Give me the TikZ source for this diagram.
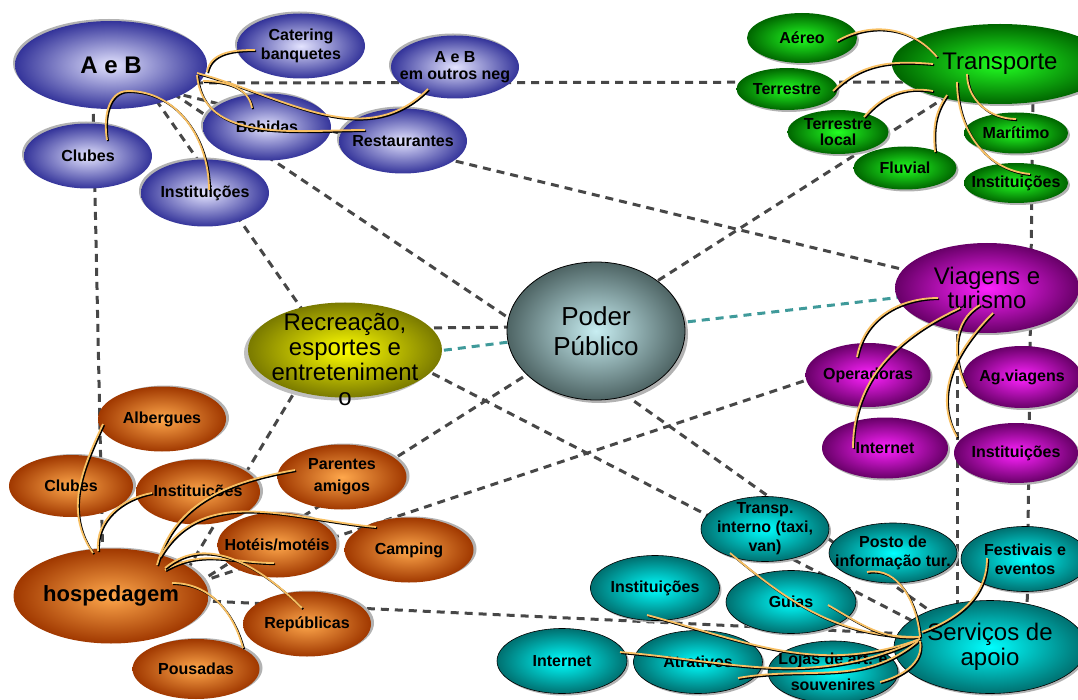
\documentclass[tikz,border=0pt]{standalone}
\usepackage{fontspec}
\setmainfont{Liberation Sans}
\usetikzlibrary{shapes.geometric, shadows, backgrounds}

\definecolor{blueIn}{HTML}{E4E4FF}
\definecolor{blueOut}{HTML}{34349A}
\definecolor{greenIn}{HTML}{22FF22}
\definecolor{greenOut}{HTML}{006600}
\definecolor{purpIn}{HTML}{FF22FF}
\definecolor{purpOut}{HTML}{680068}
\definecolor{orgIn}{HTML}{FFA84C}
\definecolor{orgOut}{HTML}{A03800}
\definecolor{cyanIn}{HTML}{00FFFF}
\definecolor{cyanOut}{HTML}{007070}
\definecolor{oliveIn}{HTML}{FFFF00}
\definecolor{oliveOut}{HTML}{7A7A00}
\definecolor{poderIn}{HTML}{C8EEF2}
\definecolor{poderOut}{HTML}{4E6464}
\definecolor{linkYellow}{HTML}{F8C063}
\definecolor{dashGray}{HTML}{474747}
\definecolor{dashTeal}{HTML}{3F9A9A}

\tikzset{
  blob/.style={ellipse, inner sep=-20pt, align=center, font=\fontsize{16}{19}\selectfont\bfseries},
  leaf/.style={minimum width=128pt, minimum height=65pt},
  blueb/.style={blob, inner color=blueIn, outer color=blueOut,
    drop shadow={shadow xshift=-2pt, shadow yshift=2pt, fill=gray!60, opacity=1}},
  greenb/.style={blob, inner color=greenIn, outer color=greenOut,
    drop shadow={shadow xshift=2pt, shadow yshift=-2pt, fill=gray!60, opacity=1}},
  purpb/.style={blob, inner color=purpIn, outer color=purpOut,
    drop shadow={shadow xshift=2pt, shadow yshift=-2pt, fill=gray!60, opacity=1}},
  orgb/.style={blob, inner color=orgIn, outer color=orgOut,
    drop shadow={shadow xshift=3pt, shadow yshift=1pt, fill=gray!60, opacity=1}},
  cyanb/.style={blob, draw=black, line width=0.6pt, inner color=cyanIn, outer color=cyanOut,
    drop shadow={shadow xshift=2pt, shadow yshift=-2pt, fill=gray!60, opacity=1}},
  dashline/.style={draw=dashGray, line width=3pt, dash pattern=on 8pt off 6pt},
  tealline/.style={dashline, draw=dashTeal},
  curvelink/.style={draw=linkYellow, line width=1.8pt,
    preaction={draw=black, line width=1.8pt, transform canvas={shift={(1.2pt,-1.2pt)}}}}
}

\begin{document}
\begin{tikzpicture}[x=1pt, y=1pt]
\useasboundingbox (0,0) rectangle (1078,-700);

% A e B
\node[blueb, minimum width=192pt, minimum height=88pt, font=\fontsize{24}{28}\selectfont\bfseries] (aeb) at (111,-65) {A e B};
\node[blueb, leaf] (cat) at (301,-46) {Catering\\banquetes};
\node[blueb, leaf, minimum height=63pt, font=\fontsize{16}{17}\selectfont\bfseries] (aeo) at (455,-67) {A e B\\em outros neg};
\node[blueb, leaf, minimum height=67pt] (beb) at (267,-127) {Bebidas};
\node[blueb, leaf] (rest) at (403,-141) {Restaurantes};
\node[blueb, leaf] (clubA) at (88,-156) {Clubes};
\node[blueb, leaf, minimum height=67pt] (instA) at (205,-193) {Instituições};

% Transporte
\node[greenb, minimum width=216pt, minimum height=80pt, font=\fontsize{24}{28}\selectfont] (trans) at (1000,-64) {Transporte};
\node[greenb, minimum width=110pt, minimum height=50pt] (aer) at (802,-38) {Aéreo};
\node[greenb, minimum width=101pt, minimum height=42pt] (terr) at (787,-89) {Terrestre};
\node[greenb, minimum width=101pt, minimum height=44pt, font=\fontsize{16}{16}\selectfont\bfseries] (terrl) at (838,-132) {Terrestre\\local};
\node[greenb, minimum width=103pt, minimum height=43pt] (fluv) at (905,-168) {Fluvial};
\node[greenb, minimum width=104pt, minimum height=41pt] (mar) at (1016,-133) {Marítimo};
\node[greenb, minimum width=104pt, minimum height=40pt] (instT) at (1016,-183) {Instituições};

% Viagens e turismo
\node[purpb, minimum width=184pt, minimum height=90pt, font=\fontsize{24}{24}\selectfont] (viag) at (987,-288) {Viagens e\\turismo};
\node[purpb, minimum width=125pt, minimum height=64pt] (oper) at (868,-375) {Operadoras};
\node[purpb, minimum width=118pt, minimum height=62pt] (agv) at (1022,-377) {Ag.viagens};
\node[purpb, minimum width=126pt, minimum height=61pt] (intV) at (885,-448) {Internet};
\node[purpb, minimum width=124pt, minimum height=60pt] (instV) at (1016,-453) {Instituições};

% centro
\node[blob, draw=black, line width=0.8pt, inner color=poderIn, outer color=poderOut,
  drop shadow={shadow xshift=3pt, shadow yshift=-3pt, fill=gray!60, opacity=1},
  minimum width=178pt, minimum height=138pt, font=\fontsize{26}{30}\selectfont] (poder) at (596,-331) {Poder\\Público};
\node[blob, inner color=oliveIn, outer color=oliveOut, inner ysep=-32pt, text height=112pt,
  drop shadow={shadow xshift=-4pt, shadow yshift=-3pt, fill=gray!50, opacity=1},
  minimum width=194pt, minimum height=95pt, font=\fontsize{24}{25}\selectfont] (rec) at (345,-350) {Recreação,\\esportes e\\entreteniment\\o};

% hospedagem
\node[orgb, minimum width=195pt, minimum height=95pt, font=\fontsize{22}{26}\selectfont\bfseries] (hosp) at (111,-596) {hospedagem};
\node[orgb, leaf] (alb) at (162,-419) {Albergues};
\node[orgb, minimum width=124pt, minimum height=62pt] (clubH) at (71,-486) {Clubes};
\node[orgb, minimum width=124pt, minimum height=65pt] (instH) at (198,-492) {Instituições};
\node[orgb, minimum width=129pt, minimum height=65pt, font=\fontsize{16}{22}\selectfont\bfseries] (par) at (342,-477) {Parentes\\amigos};
\node[orgb, minimum width=119pt, minimum height=65pt] (hot) at (277,-545) {Hotéis/motéis};
\node[orgb, minimum width=129pt, minimum height=65pt] (camp) at (409,-550) {Camping};
\node[orgb, leaf] (rep) at (307,-624) {Repúblicas};
\node[orgb, minimum width=127pt, minimum height=60pt] (pous) at (196,-669) {Pousadas};

% Servicos de apoio
\node[cyanb, minimum width=192pt, minimum height=93pt, font=\fontsize{24}{25}\selectfont] (serv) at (990,-647) {Serviços de\\apoio};
\node[cyanb, leaf] (tint) at (765,-529) {Transp.\\interno (taxi,\\van)};
\node[cyanb, minimum width=128pt, minimum height=60pt] (posto) at (893,-553) {Posto de\\informação tur.};
\node[cyanb, leaf] (fest) at (1025,-559) {Festivais e\\eventos};
\node[cyanb, minimum width=129pt, minimum height=65pt] (instC) at (655,-588) {Instituições};
\node[cyanb, minimum width=130pt, minimum height=63pt] (guia) at (791,-602) {Guias};
\node[cyanb, minimum width=130pt, minimum height=65pt] (intC) at (562,-661) {Internet};
\node[cyanb, minimum width=129pt, minimum height=63pt] (atr) at (698,-662) {Atrativos};
\node[cyanb, minimum width=130pt, minimum height=62pt, font=\fontsize{16}{26}\selectfont\bfseries] (loja) at (833,-672) {Lojas de art. e\\souvenires};

% ligacoes tracejadas
\begin{scope}[on background layer]
\draw[dashline] ([shift={(70,-18)}]aeb.center) -- ([shift={(-92,-18)}]trans.center);
\draw[dashline] ([shift={(39,-13)}]aeb.center) -- ([shift={(-56,-8)}]poder.center);
\draw[dashline] ([shift={(29,-12)}]aeb.center) -- ([shift={(-25,15)}]rec.center);
\draw[dashline] ([shift={(59,-27)}]aeb.center) -- ([shift={(-57,12)}]viag.center);
\draw[dashline] ([shift={(-18,-35)}]aeb.center) -- ([shift={(-8,26)}]hosp.center);
\draw[dashline] ([shift={(-40,-24)}]trans.center) -- ([shift={(44,39)}]poder.center);
\draw[dashline] ([shift={(33,-26)}]trans.center) -- ([shift={(37,27)}]serv.center);
\draw[dashline] ([shift={(-30,-32)}]viag.center) -- ([shift={(-33,22)}]serv.center);
\draw[tealline] ([shift={(64,6)}]poder.center) -- ([shift={(-67,-7)}]viag.center);
\draw[dashline] ([shift={(75,22)}]rec.center) -- ([shift={(-71,4)}]poder.center);
\draw[tealline] ([shift={(85,-2)}]rec.center) -- ([shift={(-71,-9)}]poder.center);
\draw[dashline] ([shift={(75,-17)}]rec.center) -- ([shift={(-60,17)}]serv.center);
\draw[dashline] ([shift={(4,-46)}]poder.center) -- ([shift={(-40,22)}]serv.center);
\draw[dashline] ([shift={(69,14)}]hosp.center) -- ([shift={(-45,-33)}]rec.center);
\draw[dashline] ([shift={(74,5)}]hosp.center) -- ([shift={(-46,-29)}]poder.center);
\draw[dashline] ([shift={(74,9)}]hosp.center) -- ([shift={(-28,6)}]oper.center);
\draw[dashline] ([shift={(74,-4)}]hosp.center) -- ([shift={(-60,12)}]serv.center);
\end{scope}

% A e B
\draw[curvelink] ([shift={(96,-7)}]aeb.center) to[out=80, in=180] ([shift={(-46,-4)}]cat.center);
\draw[curvelink] ([shift={(86,-8)}]aeb.center) to[out=-15, in=-135] ([shift={(-27,-22)}]aeo.center);
\draw[curvelink] ([shift={(92,-16)}]aeb.center) to[out=0, in=100] ([shift={(-15,19)}]beb.center);
\draw[curvelink] ([shift={(86,-10)}]aeb.center) to[out=-85, in=180] ([shift={(-38,11)}]rest.center);
\draw[curvelink] ([shift={(17,-26)}]aeb.center) to[out=180, in=100] ([shift={(19,16)}]clubA.center);
\draw[curvelink] ([shift={(17,-26)}]aeb.center) to[out=0, in=90] ([shift={(4,3)}]instA.center);

% Transporte
\draw[curvelink] ([shift={(-63,7)}]trans.center) to[out=130, in=30] ([shift={(35,-3)}]aer.center);
\draw[curvelink] ([shift={(-67,0)}]trans.center) to[out=175, in=45] ([shift={(46,-2)}]terr.center);
\draw[curvelink] ([shift={(-67,-27)}]trans.center) to[out=170, in=50] ([shift={(26,15)}]terrl.center);
\draw[curvelink] ([shift={(-53,-31)}]trans.center) to[out=-125, in=95] ([shift={(30,16)}]fluv.center);
\draw[curvelink] ([shift={(-33,-10)}]trans.center) to[out=-90, in=180] ([shift={(0,14)}]mar.center);
\draw[curvelink] ([shift={(-43,-18)}]trans.center) to[out=-90, in=175] ([shift={(14,9)}]instT.center);

% Viagens e turismo
\draw[curvelink] ([shift={(-49,-10)}]viag.center) to[out=180, in=80] ([shift={(-11,18)}]oper.center);
\draw[curvelink] ([shift={(-27,-20)}]viag.center) to[out=-155, in=90] ([shift={(-32,0)}]intV.center);
\draw[curvelink] ([shift={(-7,-17)}]viag.center) to[out=-150, in=115] ([shift={(-56,-10)}]agv.center);
\draw[curvelink] ([shift={(6,-25)}]viag.center) to[out=-135, in=120] ([shift={(-59,16)}]instV.center);

% hospedagem
\draw[curvelink] ([shift={(-18,43)}]hosp.center) to[out=125, in=-115] ([shift={(-59,-5)}]alb.center);
\draw[curvelink] ([shift={(-13,45)}]hosp.center) to[out=95, in=190] ([shift={(-46,-1)}]instH.center);
\draw[curvelink] ([shift={(46,31)}]hosp.center) to[out=75, in=190] ([shift={(-47,7)}]par.center);
\draw[curvelink] ([shift={(49,39)}]hosp.center) to[out=60, in=175] ([shift={(-33,23)}]camp.center);
\draw[curvelink] ([shift={(54,26)}]hosp.center) to[out=30, in=180] ([shift={(-3,-18)}]hot.center);
\draw[curvelink] ([shift={(54,28)}]hosp.center) to[out=40, in=135] ([shift={(-5,16)}]rep.center);
\draw[curvelink] ([shift={(61,13)}]hosp.center) to[out=0, in=105] ([shift={(47,21)}]pous.center);

% Servicos de apoio
\draw[curvelink] ([shift={(-70,10)}]serv.center) to[out=180, in=-40] ([shift={(-35,-24)}]tint.center);
\draw[curvelink] ([shift={(-70,10)}]serv.center) to[out=95, in=10] ([shift={(-26,-19)}]posto.center);
\draw[curvelink] ([shift={(-68,15)}]serv.center) to[out=20, in=-90] ([shift={(-38,1)}]fest.center);
\draw[curvelink] ([shift={(-70,10)}]serv.center) to[out=185, in=-30] ([shift={(37,-3)}]guia.center);
\draw[curvelink] ([shift={(-70,8)}]serv.center) to[out=200, in=-15] ([shift={(-8,-27)}]instC.center);
\draw[curvelink] ([shift={(-70,8)}]serv.center) to[out=205, in=-5] ([shift={(58,9)}]intC.center);
\draw[curvelink] ([shift={(-72,6)}]serv.center) to[out=220, in=10] ([shift={(40,-16)}]atr.center);
\draw[curvelink] ([shift={(-70,6)}]serv.center) to[out=-80, in=15] ([shift={(47,-10)}]loja.center);
\end{tikzpicture}
\end{document}
